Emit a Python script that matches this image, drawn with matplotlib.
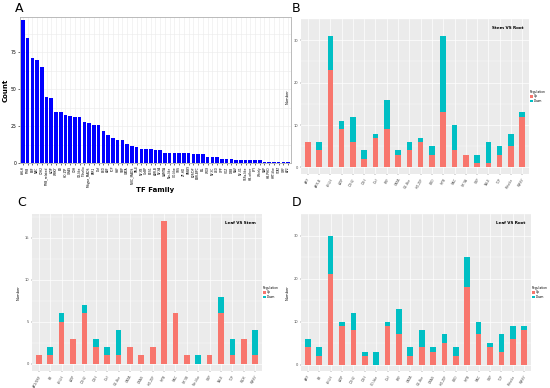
import numpy as np
import matplotlib
matplotlib.use('Agg')
import matplotlib.pyplot as plt

# ---- panel A: TF family counts ----
a_families = ['bHLH', 'MYB', 'ERF', 'NAC', 'C2H2', 'MYB_related', 'bZIP', 'WRKY', 'B3', 'HD-ZIP',
              'GRAS', 'C3H', 'G2-like', 'Trihelix', 'M-type_MADS', 'FAR1', 'Dof', 'LBD', 'ARF', 'TCP',
              'HSF', 'SBP', 'GATA', 'MIKC_MADS', 'TALE', 'NF-YB', 'GeBP', 'BES1', 'ARR-B', 'NF-YA',
              'CAMTA', 'Nin-like', 'CO-like', 'SRS', 'ZF-HD', 'YABBY', 'E2F/DP', 'BBR-BPC', 'EIL', 'WOX',
              'NF-YC', 'LSD', 'CPP', 'VOZ', 'DBB', 'RAV', 'NF-X1', 'S1Fa-like', 'HB-other', 'LFY',
              'Whirly', 'SAP', 'HB-PHD', 'HRT-like', 'STAT', 'GRF', 'AP2']
a_counts = [97, 85, 71, 70, 65, 45, 44, 35, 35, 33,
            32, 31, 31, 28, 27, 26, 26, 22, 19, 17,
            16, 16, 13, 12, 11, 10, 10, 10, 9, 9,
            7, 7, 7, 7, 7, 7, 6, 6, 6, 4,
            4, 4, 3, 3, 3, 2, 2, 2, 2, 2,
            2, 1, 1, 1, 1, 1, 1]

# ---- panel B: Stem VS Root ----
b_families = ['ARF', 'ARR-B', 'bHLH', 'bZIP', 'C2H2', 'C3H', 'Dof', 'ERF', 'GATA', 'G2-like',
              'HD-ZIP', 'LBD', 'MYB', 'NAC', 'NF-YA', 'SBP', 'TALE', 'TCP', 'Trihelix', 'WRKY']
b_up = [6, 4, 23, 9, 6, 2, 7, 9, 3, 4, 6, 3, 13, 4, 3, 1, 1, 3, 5, 12]
b_down = [0, 2, 8, 2, 6, 2, 1, 7, 1, 2, 1, 2, 18, 6, 0, 2, 5, 2, 3, 1]

# ---- panel C: Leaf VS Stem ----
c_families = ['AP2/ERF', 'B3', 'bHLH', 'bZIP', 'C2H2', 'C3H', 'Dof', 'G2-like', 'GATA', 'GRAS',
              'HD-ZIP', 'MYB', 'NAC', 'NF-YB', 'Nin-like', 'SBP', 'TALE', 'TCP', 'WOX', 'WRKY']
c_up = [1, 1, 5, 3, 6, 2, 1, 1, 2, 1, 2, 17, 6, 1, 0, 1, 6, 1, 3, 1]
c_down = [0, 1, 1, 0, 1, 1, 1, 3, 0, 0, 0, 0, 0, 0, 1, 0, 2, 2, 0, 3]

# ---- panel D: Leaf VS Root ----
d_families = ['ARF', 'B3', 'bHLH', 'bZIP', 'C2H2', 'C3H', 'CO-like', 'Dof', 'ERF', 'GATA',
              'G2-like', 'GRAS', 'HD-ZIP', 'LBD', 'MYB', 'NAC', 'SBP', 'TCP', 'Trihelix', 'WRKY']
d_up = [4, 2, 21, 9, 8, 2, 0, 9, 7, 2, 4, 3, 5, 2, 18, 7, 4, 3, 6, 8]
d_down = [2, 2, 9, 1, 4, 1, 3, 1, 6, 2, 4, 1, 2, 2, 7, 3, 1, 4, 3, 1]

UP_COL = '#F8766D'
DOWN_COL = '#00BFC4'

fig = plt.figure(figsize=(5.5, 3.88), dpi=100)


def px_axes(left, top, right, bottom):
    # figure position from pixel box
    return fig.add_axes([left / 550, 1 - bottom / 388, (right - left) / 550, (bottom - top) / 388])


# ===== A =====
axA = px_axes(20, 17, 291, 163.3)
xa = np.arange(len(a_families))
axA.set_axisbelow(True)
axA.bar(xa, a_counts, width=0.75, color='#0000FF')
axA.set_xlim(-0.6, len(a_families) - 0.4)
axA.set_ylim(0, 99)
axA.set_yticks([0, 25, 50, 75])
axA.set_yticks([12.5, 37.5, 62.5, 87.5], minor=True)
axA.set_xticks(xa)
axA.set_xticklabels(a_families, rotation=90, fontsize=2.2)
axA.tick_params(axis='y', labelsize=3.3, length=1.2, width=0.4, pad=1)
axA.tick_params(axis='x', length=1.2, width=0.4, pad=1)
axA.tick_params(axis='y', which='minor', length=0)
axA.grid(True, which='both', color='#EBEBEB', linewidth=0.4)
for s in axA.spines.values():
    s.set_color('#B0B0B0')
    s.set_linewidth(0.6)
axA.set_ylabel('Count', fontsize=5, fontweight='bold', labelpad=2)
axA.set_xlabel('TF Family', fontsize=5, fontweight='bold')
axA.xaxis.set_label_coords(0.5, -0.165)
fig.text(15 / 550, 1 - 8 / 388, 'A', fontsize=9, va='center', ha='left')


def stacked_panel(ax, families, up, down, title, ymax, ystep):
    x = np.arange(len(families))
    total = np.array(up) + np.array(down)
    ax.set_facecolor('#EBEBEB')
    ax.set_axisbelow(True)
    ax.bar(x, up, width=0.5, color=UP_COL, label='Up')
    ax.bar(x, down, width=0.5, bottom=up, color=DOWN_COL, label='Down')
    ax.set_xlim(-0.6, len(families) - 0.4)
    top = total.max() * 1.05
    ax.set_ylim(-total.max() * 0.05, top)
    ticks = np.arange(0, ymax + 1, ystep)
    ax.set_yticks(ticks)
    ax.set_yticks(ticks + ystep / 2.0, minor=True)
    ax.set_xticks(x)
    ax.set_xticklabels(families, rotation=60, ha='right', rotation_mode='anchor', fontsize=2.3)
    ax.tick_params(axis='y', labelsize=2.6, length=1, width=0.3, pad=1, colors='#4D4D4D')
    ax.tick_params(axis='x', length=1, width=0.3, pad=1.5, colors='#4D4D4D')
    ax.tick_params(axis='y', which='minor', length=0)
    ax.grid(True, which='major', color='white', linewidth=0.5)
    ax.grid(True, which='minor', axis='y', color='white', linewidth=0.25)
    for s in ax.spines.values():
        s.set_visible(False)
    ax.set_ylabel('Number', fontsize=2.6, labelpad=3)
    ax.text(0.975, 0.955, title, transform=ax.transAxes, ha='right', va='top',
            fontsize=3, fontweight='bold')
    leg = ax.legend(loc='center left', bbox_to_anchor=(1.0, 0.5), frameon=False,
                    title='Regulation', fontsize=2.2, title_fontsize=2.2,
                    handlelength=0.9, handleheight=0.9, labelspacing=0.15,
                    handletextpad=0.3, borderpad=0.1, borderaxespad=0.2)
    leg._legend_box.align = 'left'
    return ax


axB = px_axes(301, 19, 529, 174)
stacked_panel(axB, b_families, b_up, b_down, 'Stem VS Root', 30, 10)
fig.text(292 / 550, 1 - 8 / 388, 'B', fontsize=9, va='center', ha='left')

axC = px_axes(32, 214, 262, 371)
stacked_panel(axC, c_families, c_up, c_down, 'Leaf VS Stem', 15, 5)
fig.text(17 / 550, 1 - 203 / 388, 'C', fontsize=9, va='center', ha='left')

axD = px_axes(301, 214, 531, 371)
stacked_panel(axD, d_families, d_up, d_down, 'Leaf VS Root', 30, 10)
fig.text(292 / 550, 1 - 203 / 388, 'D', fontsize=9, va='center', ha='left')

fig.savefig('out.png', dpi=100)
